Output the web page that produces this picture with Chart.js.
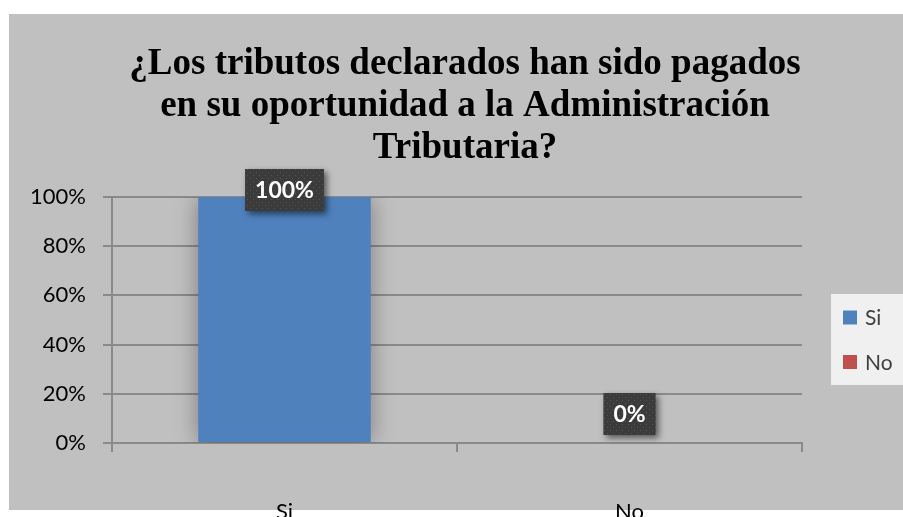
<!DOCTYPE html>
<html>
<head>
<meta charset="utf-8">
<script src="https://cdn.jsdelivr.net/npm/chart.js@4"></script>
<style>
  html, body { margin: 0; padding: 0; background: #fff; overflow: hidden; }
  #wrap { position: absolute; left: 0; top: 0; width: 903px; height: 517px; }
</style>
</head>
<body>
<div id="wrap"><canvas id="myChart" width="903" height="517"></canvas></div>
<script>
var titleLines = ["¿Los tributos declarados han sido pagados", "en su oportunidad a la Administración", "Tributaria?"];
var categorias = ["Si", "No"];
var porcentajes = [100, 0];
var colores = ["#4f81bd", "#c0504d"];
var yTicks = [0, 20, 40, 60, 80, 100];

var gris = "#c0c0c0";
var lineaEje = "#8a8a8a";

// fondo gris + leyenda a la derecha (como en excel)
var fondo = {
  id: "fondo",
  beforeDraw: function (chart) {
    var c = chart.ctx;
    c.save();
    c.fillStyle = "#ffffff";
    c.fillRect(0, 0, chart.width, chart.height);
    c.fillStyle = gris;
    c.fillRect(9, 14, chart.width - 9, 496);
    c.restore();
  },
  afterDraw: function (chart) {
    var c = chart.ctx;
    var area = chart.chartArea;
    var x0 = area.right + 29;
    c.save();
    c.fillStyle = "#f0f0f0";
    c.fillRect(x0, 294, chart.width - x0, 91);
    c.font = "21px Lato";
    c.textBaseline = "middle";
    categorias.forEach(function (cat, i) {
      var cy = 317.5 + i * 44.5;
      c.fillStyle = colores[i];
      c.fillRect(x0 + 12, cy - 7, 14, 14);
      c.fillStyle = "#404040";
      c.fillText(cat, x0 + 34, cy + 1);
    });
    c.restore();
  }
};

function patron(ctx) {
  var p = document.createElement("canvas");
  p.width = 6; p.height = 6;
  var pc = p.getContext("2d");
  pc.fillStyle = "#3b3b3b";
  pc.fillRect(0, 0, 6, 6);
  pc.fillStyle = "#565656";
  pc.fillRect(1, 1, 1, 1);
  pc.fillRect(4, 4, 1, 1);
  return ctx.createPattern(p, "repeat");
}

// sombra de barras + etiquetas de datos
var etiquetas = {
  id: "etiquetas",
  beforeDatasetsDraw: function (chart) {
    var c = chart.ctx;
    c.save();
    c.shadowColor = "rgba(0,0,0,0.35)";
    c.shadowBlur = 22;
  },
  afterDatasetsDraw: function (chart) {
    var c = chart.ctx;
    c.restore();
    var meta = chart.getDatasetMeta(0);
    var area = chart.chartArea;
    c.save();
    c.font = "bold 23px Lato";
    c.textAlign = "center";
    c.textBaseline = "middle";
    meta.data.forEach(function (bar, i) {
      var txt = porcentajes[i] + "%";
      var w = c.measureText(txt).width + 20;
      var h = 42;
      var cy = Math.max(bar.y - 29, area.top - 7);
      c.save();
      c.shadowColor = "rgba(0,0,0,0.55)";
      c.shadowBlur = 6;
      c.shadowOffsetX = 3;
      c.shadowOffsetY = 3;
      c.fillStyle = patron(c);
      c.fillRect(bar.x - w / 2, cy - h / 2, w, h);
      c.restore();
      c.fillStyle = "#ffffff";
      c.fillText(txt, bar.x, cy + 1);
    });
    c.restore();
  }
};

var ctx = document.getElementById("myChart").getContext("2d");
var myChart = new Chart(ctx, {
  type: "bar",
  data: {
    labels: categorias,
    datasets: [
      {
        label: "Respuestas",
        data: porcentajes,
        backgroundColor: colores,
        borderWidth: 0,
        categoryPercentage: 1,
        barPercentage: 0.5
      }
    ]
  },
  options: {
    responsive: false,
    animation: false,
    layout: { padding: { left: 27, right: 0, top: 0, bottom: 0 } },
    plugins: {
      tooltip: { enabled: false },
      legend: { display: false },
      title: {
        display: true,
        text: titleLines,
        color: "#000000",
        font: { family: "Liberation Serif", size: 37, weight: "bold", lineHeight: 1.135 },
        padding: { top: 43.5, bottom: 27.5 }
      }
    },
    scales: {
      x: {
        grid: { drawOnChartArea: false, drawTicks: true, tickLength: 9, offset: true, color: lineaEje, lineWidth: 2 },
        border: { display: true, color: lineaEje, width: 2 },
        ticks: { color: "#000000", padding: 47, font: { family: "Lato", size: 22 } },
        afterFit: function (s) { s.height = 74; }
      },
      y: {
        min: 0,
        max: 100,
        afterBuildTicks: function (s) { s.ticks = yTicks.map(function (v) { return { value: v }; }); },
        grid: { color: lineaEje, lineWidth: 2, drawTicks: true, tickLength: 9 },
        border: { display: true, color: lineaEje, width: 2 },
        ticks: {
          color: "#000000",
          padding: 17,
          font: { family: "Lato", size: 22 },
          callback: function (v) { return v + "%"; }
        },
        afterFit: function (s) { s.width = 85; }
      },
      hueco: {
        position: "right",
        grid: { display: false },
        border: { display: false },
        ticks: { display: false },
        afterFit: function (s) { s.width = 101; }
      }
    }
  },
  plugins: [fondo, etiquetas]
});
</script>
</body>
</html>
